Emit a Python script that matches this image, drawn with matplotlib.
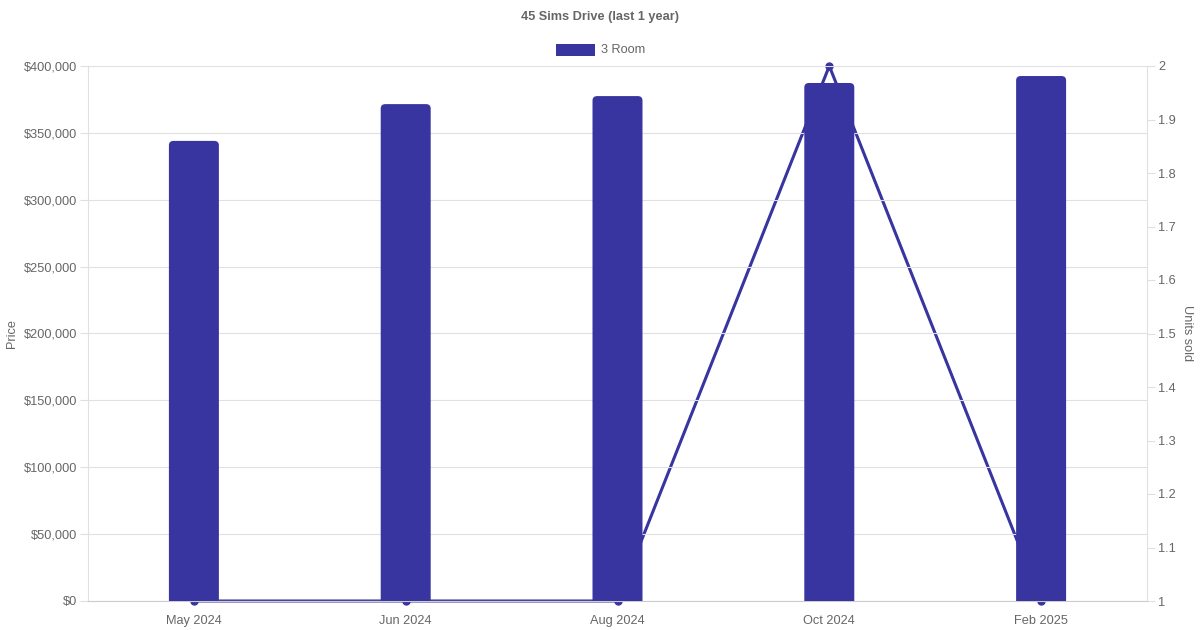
import matplotlib.pyplot as plt
from matplotlib.patches import FancyBboxPatch, Rectangle

months = ["May 2024", "Jun 2024", "Aug 2024", "Oct 2024", "Feb 2025"]
prices = [344000, 371500, 377500, 387300, 392500]
units = [1, 1, 1, 2, 1]

bar_color = "#3834a0"
text_color = "#666666"
grid_color = "#e0e0e0"

plt.rcParams['font.family'] = ['Liberation Sans', 'DejaVu Sans']

fig = plt.figure(figsize=(12, 6.3), dpi=100)
ax = fig.add_axes([88/1200, 29/630, (1147-88)/1200, (601-66)/630])
ax2 = ax.twinx()

# line behind the bars
ax.set_zorder(ax2.get_zorder() + 1)
ax.patch.set_visible(False)

x = list(range(len(months)))
ax2.plot(x, units, color=bar_color, lw=2.2, marker='o', ms=5, clip_on=False)
ax2.set_ylim(1, 2)
ax2.set_yticks([1 + i/10 for i in range(11)])
ax2.set_yticklabels(["1", "1.1", "1.2", "1.3", "1.4", "1.5", "1.6", "1.7", "1.8", "1.9", "2"])

# bars with rounded tops
bw = 0.236
for xi, p in zip(x, prices):
	box = FancyBboxPatch((xi - bw/2, -20000), bw, p + 20000,
		boxstyle="round,pad=0,rounding_size=0.022",
		mutation_aspect=150000, fc=bar_color, ec="none", zorder=3)
	ax.add_patch(box)

ax.set_xlim(-0.5, 4.5)
ax.set_ylim(0, 400000)
ax.set_yticks(range(0, 400001, 50000))
ax.set_yticklabels(["$" + format(v, ",") for v in range(0, 400001, 50000)])
ax.set_xticks(x)
ax.set_xticklabels(months)
ax.grid(axis='y', color=grid_color, lw=0.8)
ax.set_axisbelow(True)

for a in (ax, ax2):
	for s in a.spines.values():
		s.set_visible(False)
	a.tick_params(colors=grid_color, labelcolor=text_color, labelsize=9.2, length=6, width=0.8)
ax.spines['left'].set_visible(True)
ax.spines['left'].set_color(grid_color)
ax.spines['bottom'].set_visible(True)
ax.spines['bottom'].set_color("#cccccc")
ax2.spines['right'].set_visible(True)
ax2.spines['right'].set_color(grid_color)
ax.tick_params(axis='x', length=0, pad=10)
ax.tick_params(axis='y', pad=2)
ax2.tick_params(axis='y', pad=2)

ax.set_ylabel("Price", color=text_color, fontsize=9.2)
ax.yaxis.set_label_coords(-70/1059, 0.5)
ax2.set_ylabel("Units sold", color=text_color, fontsize=9.2, rotation=270)
ax2.yaxis.set_label_coords(1 + 46/1059, 0.5)

fig.text(0.5, 1 - 17/630, "45 Sims Drive (last 1 year)", ha='center', va='center',
	fontsize=9.2, fontweight='bold', color=text_color)
fig.patches.append(Rectangle((556/1200, 1 - 56/630), 39/1200, 12/630,
	transform=fig.transFigure, fc=bar_color, ec="none"))
fig.text(601/1200, 1 - 50/630, "3 Room", ha='left', va='center', fontsize=9.2, color=text_color)

fig.savefig("out.png", dpi=100)
